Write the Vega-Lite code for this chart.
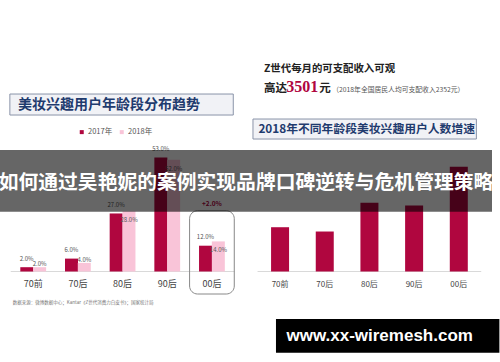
{
  "$schema": "https://vega.github.io/schema/vega-lite/v6.json",
  "width": 500,
  "height": 362,
  "autosize": {"type": "fit", "contains": "padding"},
  "padding": 0,
  "background": "white",
  "config": {"view": {"stroke": null}, "font": "Noto Sans CJK SC"},
  "datasets": {
    "dist": [
      {"chart": "年龄段分布", "age": "70前", "year": "2017年", "value": 0.02},
      {"chart": "年龄段分布", "age": "70后", "year": "2017年", "value": 0.06},
      {"chart": "年龄段分布", "age": "80后", "year": "2017年", "value": 0.27},
      {"chart": "年龄段分布", "age": "90后", "year": "2017年", "value": 0.53},
      {"chart": "年龄段分布", "age": "00后", "year": "2017年", "value": 0.12},
      {"chart": "年龄段分布", "age": "70前", "year": "2018年", "value": 0.02},
      {"chart": "年龄段分布", "age": "70后", "year": "2018年", "value": 0.04},
      {"chart": "年龄段分布", "age": "80后", "year": "2018年", "value": 0.28},
      {"chart": "年龄段分布", "age": "90后", "year": "2018年", "value": 0.52},
      {"chart": "年龄段分布", "age": "00后", "year": "2018年", "value": 0.14}
    ],
    "growth": [
      {"chart": "人数增速", "age": "70前", "value": 0.206},
      {"chart": "人数增速", "age": "70后", "value": 0.186},
      {"chart": "人数增速", "age": "80后", "value": 0.32},
      {"chart": "人数增速", "age": "90后", "value": 0.307},
      {"chart": "人数增速", "age": "00后", "value": 0.487}
    ]
  },
  "resolve": {"scale": {"x": "independent"}},
  "layer": [
    {
      "layer": [
        {
          "data": {"values": [{"chart": "年龄段分布"}, {"chart": "人数增速"}]},
          "mark": {"type": "rect", "stroke": "#d9d9d9", "strokeWidth": 1, "fill": null},
          "encoding": {
            "x": {"field": "chart", "type": "nominal", "scale": {"domain": ["年龄段分布", "人数增速"], "paddingInner": 0.095, "paddingOuter": 0.044}, "axis": null},
            "y": {"datum": 0, "type": "quantitative", "scale": {"domain": [-0.421, 1.263], "nice": false, "zero": false}, "axis": null},
            "y2": {"datum": 0}
          }
        },
        {
          "data": {"name": "growth"},
          "mark": {"type": "bar", "size": 18, "color": "#b0063f"},
          "encoding": {
            "x": {"field": "chart", "type": "nominal"},
            "xOffset": {"field": "age", "type": "nominal", "scale": {"domain": ["70前", "70后", "80后", "90后", "00后"], "paddingInner": 0, "paddingOuter": 0}},
            "y": {"field": "value", "type": "quantitative"},
            "y2": {"datum": 0}
          }
        },
        {
          "data": {"name": "dist"},
          "transform": [{"filter": "datum.year === '2017年'"}],
          "mark": {"type": "text", "dx": -6.5, "dy": -8.3, "fontSize": 6, "fill": "#555", "baseline": "middle"},
          "encoding": {
            "x": {"field": "chart", "type": "nominal"},
            "xOffset": {"field": "age", "type": "nominal"},
            "y": {"field": "value", "type": "quantitative"},
            "text": {"field": "value", "type": "quantitative", "format": ".1%"}
          }
        },
        {
          "data": {"name": "dist"},
          "transform": [{"filter": "datum.year === '2018年' && datum.value < 0.1"}],
          "mark": {"type": "text", "dx": 6.5, "dy": -3, "fontSize": 6, "fill": "#555", "baseline": "middle"},
          "encoding": {
            "x": {"field": "chart", "type": "nominal"},
            "xOffset": {"field": "age", "type": "nominal"},
            "y": {"field": "value", "type": "quantitative"},
            "text": {"field": "value", "type": "quantitative", "format": ".1%"}
          }
        },
        {
          "data": {"name": "dist"},
          "transform": [{"filter": "datum.year === '2017年'"}],
          "mark": {"type": "text", "fontSize": 9, "fill": "#444", "baseline": "middle"},
          "encoding": {
            "x": {"field": "chart", "type": "nominal"},
            "xOffset": {"field": "age", "type": "nominal"},
            "y": {"datum": -0.0595, "type": "quantitative"},
            "text": {"field": "age", "type": "nominal"}
          }
        },
        {
          "data": {"name": "growth"},
          "mark": {"type": "text", "fontSize": 8, "fill": "#444", "baseline": "middle"},
          "encoding": {
            "x": {"field": "chart", "type": "nominal"},
            "xOffset": {"field": "age", "type": "nominal"},
            "y": {"datum": -0.0628, "type": "quantitative"},
            "text": {"field": "age", "type": "nominal"}
          }
        },
        {
          "data": {"values": [{"chart": "年龄段分布", "age": "00后", "note": "+2.0%"}]},
          "mark": {"type": "rect", "fill": null, "stroke": "#888", "strokeWidth": 1, "cornerRadius": 8},
          "encoding": {
            "x": {"field": "chart", "type": "nominal"},
            "xOffset": {"field": "age", "type": "nominal"},
            "y": {"datum": 0.2828, "type": "quantitative"},
            "y2": {"datum": -0.1047}
          }
        },
        {
          "data": {"values": [{"chart": "年龄段分布", "age": "00后", "note": "+2.0%"}]},
          "mark": {"type": "text", "fontSize": 6.5, "fontWeight": "bold", "fill": "#b0063f", "baseline": "middle"},
          "encoding": {
            "x": {"field": "chart", "type": "nominal"},
            "xOffset": {"field": "age", "type": "nominal"},
            "y": {"datum": 0.314, "type": "quantitative"},
            "text": {"field": "note", "type": "nominal"}
          }
        },
        {
          "data": {"values": [{"chart": "年龄段分布", "label": "美妆兴趣用户年龄段分布趋势"}]},
          "mark": {"type": "rect", "fill": "#f1f2f6", "stroke": "#8a93a8", "strokeWidth": 1, "xOffset": -1, "x2Offset": -26},
          "encoding": {
            "x": {"field": "chart", "type": "nominal"},
            "y": {"datum": 0.8256, "type": "quantitative"},
            "y2": {"datum": 0.7279}
          }
        },
        {
          "data": {"values": [{"chart": "年龄段分布", "label": "美妆兴趣用户年龄段分布趋势"}]},
          "mark": {"type": "text", "fontSize": 14, "fontWeight": "bold", "fill": "#1f3b6e", "baseline": "middle", "dx": -13.5},
          "encoding": {
            "x": {"field": "chart", "type": "nominal"},
            "y": {"datum": 0.7767, "type": "quantitative"},
            "text": {"field": "label", "type": "nominal"}
          }
        },
        {
          "data": {"values": [{"chart": "人数增速", "label": "2018年不同年龄段美妆兴趣用户人数增速"}]},
          "mark": {"type": "rect", "fill": "#f1f2f6", "stroke": "#8a93a8", "strokeWidth": 1, "xOffset": -4.75, "x2Offset": -0.75},
          "encoding": {
            "x": {"field": "chart", "type": "nominal"},
            "y": {"datum": 0.7093, "type": "quantitative"},
            "y2": {"datum": 0.6163}
          }
        },
        {
          "data": {"values": [{"chart": "人数增速", "label": "2018年不同年龄段美妆兴趣用户人数增速"}]},
          "mark": {"type": "text", "fontSize": 11.8, "fontWeight": "bold", "fill": "#1f3b6e", "baseline": "middle", "dx": -2.75},
          "encoding": {
            "x": {"field": "chart", "type": "nominal"},
            "y": {"datum": 0.6628, "type": "quantitative"},
            "text": {"field": "label", "type": "nominal"}
          }
        },
        {
          "data": {"values": [{"chart": "人数增速", "label": "Z世代每月的可支配收入可观"}]},
          "mark": {"type": "text", "fontSize": 10.4, "fontWeight": "bold", "fill": "#222", "baseline": "middle", "align": "left", "dx": 6.25},
          "encoding": {
            "x": {"field": "chart", "type": "nominal", "bandPosition": 0},
            "y": {"datum": 0.9419, "type": "quantitative"},
            "text": {"field": "label", "type": "nominal"}
          }
        },
        {
          "data": {"values": [{"chart": "人数增速", "label": "高达"}]},
          "mark": {"type": "text", "fontSize": 11.5, "fontWeight": "bold", "fill": "#222", "baseline": "alphabetic", "align": "left", "dx": 6.25},
          "encoding": {
            "x": {"field": "chart", "type": "nominal", "bandPosition": 0},
            "y": {"datum": 0.8335, "type": "quantitative"},
            "text": {"field": "label", "type": "nominal"}
          }
        },
        {
          "data": {"values": [{"chart": "人数增速", "label": "3501"}]},
          "mark": {"type": "text", "fontSize": 16, "font": "Liberation Serif", "fontWeight": "bold", "fill": "#b0063f", "baseline": "alphabetic", "align": "left", "dx": 28.5},
          "encoding": {
            "x": {"field": "chart", "type": "nominal", "bandPosition": 0},
            "y": {"datum": 0.8335, "type": "quantitative"},
            "text": {"field": "label", "type": "nominal"}
          }
        },
        {
          "data": {"values": [{"chart": "人数增速", "label": "元"}]},
          "mark": {"type": "text", "fontSize": 11.5, "fontWeight": "bold", "fill": "#222", "baseline": "alphabetic", "align": "left", "dx": 61.5},
          "encoding": {
            "x": {"field": "chart", "type": "nominal", "bandPosition": 0},
            "y": {"datum": 0.8335, "type": "quantitative"},
            "text": {"field": "label", "type": "nominal"}
          }
        },
        {
          "data": {"values": [{"chart": "人数增速", "label": "（2018年全国居民人均可支配收入2352元）"}]},
          "mark": {"type": "text", "fontSize": 6.8, "fill": "#555", "baseline": "alphabetic", "align": "left", "dx": 74.5},
          "encoding": {
            "x": {"field": "chart", "type": "nominal", "bandPosition": 0},
            "y": {"datum": 0.8335, "type": "quantitative"},
            "text": {"field": "label", "type": "nominal"}
          }
        },
        {
          "data": {"values": [{"chart": "年龄段分布", "label": "数据来源：微博数据中心；Kantar《Z世代消费力白皮书》；国家统计局"}]},
          "mark": {"type": "text", "fontSize": 4.5, "fill": "#777", "baseline": "middle", "align": "left", "dx": 2},
          "encoding": {
            "x": {"field": "chart", "type": "nominal", "bandPosition": 0},
            "y": {"datum": -0.1479, "type": "quantitative"},
            "text": {"field": "label", "type": "nominal"}
          }
        }
      ]
    },
    {
      "data": {"name": "dist"},
      "transform": [{"filter": "datum.year === '2017年'"}],
      "mark": {"type": "bar", "size": 13},
      "encoding": {
        "x": {"field": "chart", "type": "nominal", "scale": {"domain": ["年龄段分布", "人数增速"], "paddingInner": 0.095, "paddingOuter": 0.044, "align": 0.2056}, "axis": null},
        "xOffset": {"field": "age", "type": "nominal"},
        "y": {"field": "value", "type": "quantitative"},
        "y2": {"datum": 0},
        "color": {"field": "year", "type": "nominal", "scale": {"domain": ["2017年", "2018年"], "range": ["#b0063f", "#f9c4d8"]},
          "legend": {"orient": "none", "legendX": 78, "legendY": 128, "padding": 0, "direction": "horizontal", "title": null, "symbolType": "square", "symbolSize": 16, "labelFontSize": 7.5, "labelColor": "#555", "columnPadding": 5, "symbolStrokeWidth": 0, "labelOffset": 2.5}}
      }
    },
    {
      "data": {"name": "dist"},
      "transform": [{"filter": "datum.year === '2018年'"}],
      "mark": {"type": "bar", "size": 13},
      "encoding": {
        "x": {"field": "chart", "type": "nominal", "scale": {"domain": ["年龄段分布", "人数增速"], "paddingInner": 0.095, "paddingOuter": 0.044, "align": 0.7944}, "axis": null},
        "xOffset": {"field": "age", "type": "nominal"},
        "y": {"field": "value", "type": "quantitative"},
        "y2": {"datum": 0},
        "color": {"field": "year", "type": "nominal"}
      }
    },
    {
      "layer": [
        {
          "data": {"name": "dist"},
          "transform": [{"filter": "datum.year === '2018年' && datum.value >= 0.1"}],
          "mark": {"type": "text", "dx": 6.5, "dy": 9, "fontSize": 6, "fill": "#555", "baseline": "middle"},
          "encoding": {
            "x": {"field": "chart", "type": "nominal", "scale": {"domain": ["年龄段分布", "人数增速"], "paddingInner": 0.095, "paddingOuter": 0.044}, "axis": null},
            "xOffset": {"field": "age", "type": "nominal"},
            "y": {"field": "value", "type": "quantitative"},
            "text": {"field": "value", "type": "quantitative", "format": ".1%"}
          }
        },
        {
          "data": {"values": [{"label": "如何通过吴艳妮的案例实现品牌口碑逆转与危机管理策略"}]},
          "mark": {"type": "rect", "fill": "#000", "fillOpacity": 0.6},
          "encoding": {
            "y": {"datum": 0.5651, "type": "quantitative"},
            "y2": {"datum": 0.2781}
          }
        },
        {
          "data": {"values": [{"label": "如何通过吴艳妮的案例实现品牌口碑逆转与危机管理策略"}]},
          "mark": {"type": "text", "fontSize": 19.8, "fontWeight": "bold", "fill": "white", "baseline": "middle"},
          "encoding": {
            "y": {"datum": 0.4102, "type": "quantitative"},
            "text": {"field": "label", "type": "nominal"}
          }
        },
        {
          "data": {"values": [{"chart": "人数增速", "label": "www.xx-wiremesh.com"}]},
          "mark": {"type": "rect", "fill": "#000", "xOffset": 18.25, "x2Offset": 2.25},
          "encoding": {
            "x": {"field": "chart", "type": "nominal"},
            "y": {"datum": -0.2209, "type": "quantitative"},
            "y2": {"datum": -0.3777}
          }
        },
        {
          "data": {"values": [{"chart": "人数增速", "label": "www.xx-wiremesh.com"}]},
          "mark": {"type": "text", "fontSize": 17, "font": "Liberation Sans", "fontWeight": "bold", "fill": "white", "baseline": "middle", "dx": 10.25},
          "encoding": {
            "x": {"field": "chart", "type": "nominal"},
            "y": {"datum": -0.3, "type": "quantitative"},
            "text": {"field": "label", "type": "nominal"}
          }
        }
      ]
    }
  ]
}
